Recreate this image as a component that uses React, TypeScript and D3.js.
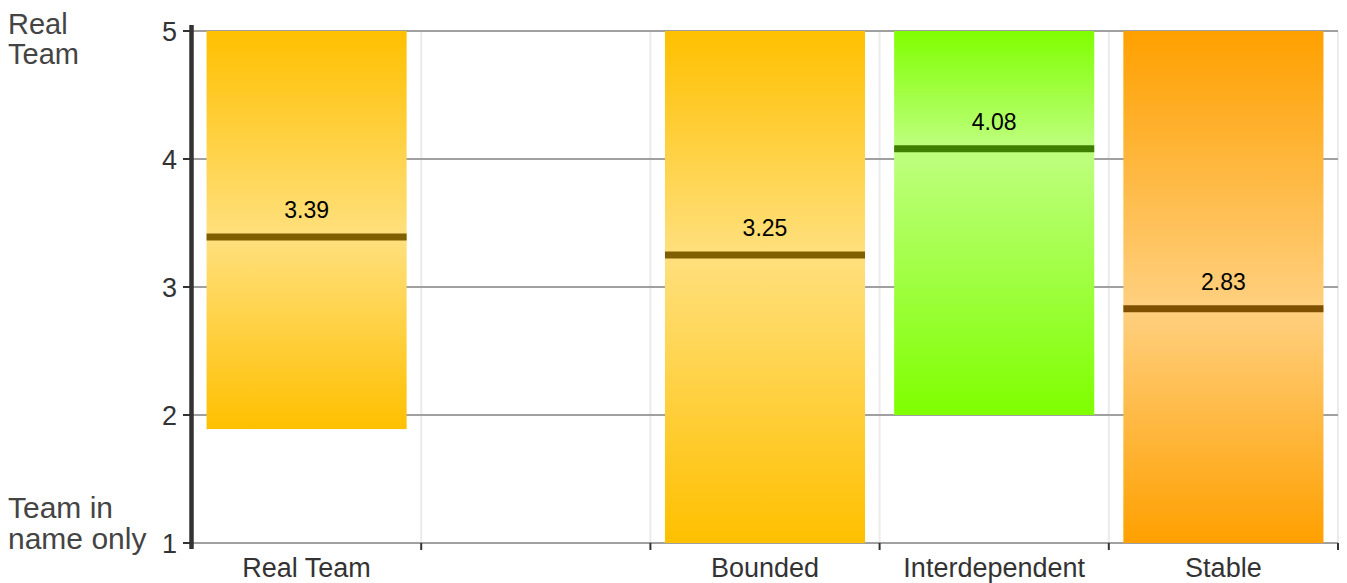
import React from "react";
import * as d3 from "d3";

const categories = ["Real Team", "", "Bounded", "Interdependent", "Stable"];
const lows = [1.89, null, 1, 2, 1];
const highs = [5, null, 5, 5, 5];
const values = [3.39, null, 3.25, 4.08, 2.83];
const yTicks = [1, 2, 3, 4, 5];
const palettes = [
  { dark: "#FFC000", light: "#FFE07E", line: "#7F5F00" },
  null,
  { dark: "#FFC000", light: "#FFE07E", line: "#7F5F00" },
  { dark: "#7FFF00", light: "#BFFF80", line: "#3F7F00" },
  { dark: "#FFA000", light: "#FFD080", line: "#7F5000" },
];

export default function App() {
  const W = 1347, H = 583;
  const left = 192, right = 1338, top = 31, bottom = 543;
  const x = d3.scaleBand<number>().domain(categories.map((_, i) => i)).range([left, right]).paddingInner(0.127).paddingOuter(0.0635);
  const slot = d3.scaleBand<number>().domain(categories.map((_, i) => i)).range([left, right]);
  const y = d3.scaleLinear().domain([1, 5]).range([bottom, top]);
  const font = "'Liberation Sans', Arial, sans-serif";
  return (
    <svg width={W} height={H} style={{ position: "absolute", left: 0, top: 0 }} fontFamily={font}>
      <defs>
        {categories.map((c, i) => {
          const p = palettes[i];
          if (!p || values[i] == null) return null;
          const lo = lows[i] as number, hi = highs[i] as number, v = values[i] as number;
          const off = (hi - v) / (hi - lo);
          return (
            <linearGradient key={i} id={`g${i}`} x1="0" y1="0" x2="0" y2="1">
              <stop offset="0" stopColor={p.dark} />
              <stop offset={off} stopColor={p.light} />
              <stop offset="1" stopColor={p.dark} />
            </linearGradient>
          );
        })}
      </defs>
      {categories.map((_, i) => (
        <line key={"vg" + i} x1={(slot(i) as number) + slot.bandwidth()} x2={(slot(i) as number) + slot.bandwidth()} y1={top} y2={bottom} stroke="#ebebeb" strokeWidth={2} />
      ))}
      {yTicks.map((t) => (
        <line key={"hg" + t} x1={left} x2={right} y1={y(t)} y2={y(t)} stroke="#a0a0a0" strokeWidth={2} />
      ))}
      {categories.map((c, i) => {
        const p = palettes[i];
        if (!p || values[i] == null) return null;
        const lo = lows[i] as number, hi = highs[i] as number, v = values[i] as number;
        const bx = x(i) as number, bw = x.bandwidth();
        return (
          <g key={"b" + i}>
            <rect x={bx} y={y(hi)} width={bw} height={y(lo) - y(hi)} fill={`url(#g${i})`} />
            <line x1={bx} x2={bx + bw} y1={y(v)} y2={y(v)} stroke={p.line} strokeWidth={7} />
            <text x={bx + bw / 2} y={y(v) - 19} textAnchor="middle" fontSize={23} fill="#000">{v.toFixed(2)}</text>
          </g>
        );
      })}
      <line x1={left - 0.5} x2={left - 0.5} y1={top - 6} y2={bottom + 6} stroke="#333" strokeWidth={4.5} />
      {yTicks.map((t) => (
        <g key={"yt" + t}>
          <line x1={left - 9} x2={left} y1={y(t)} y2={y(t)} stroke="#333" strokeWidth={2} />
          <text x={left - 15} y={y(t) + 10} textAnchor="end" fontSize={27} fill="#333">{t}</text>
        </g>
      ))}
      {categories.map((_, i) => (
        <line key={"xt" + i} x1={(slot(i) as number) + slot.bandwidth()} x2={(slot(i) as number) + slot.bandwidth()} y1={bottom} y2={bottom + 7} stroke="#333" strokeWidth={2} />
      ))}
      {categories.map((c, i) => (
        <text key={"xl" + i} x={(slot(i) as number) + slot.bandwidth() / 2} y={577} textAnchor="middle" fontSize={27} fill="#333">{c}</text>
      ))}
      <text x={8} y={34} fontSize={29} fill="#444">Real</text>
      <text x={8} y={64} fontSize={29} fill="#444">Team</text>
      <text x={8} y={518} fontSize={30} fill="#444">Team in</text>
      <text x={8} y={549} fontSize={30} fill="#444">name only</text>
    </svg>
  );
}
